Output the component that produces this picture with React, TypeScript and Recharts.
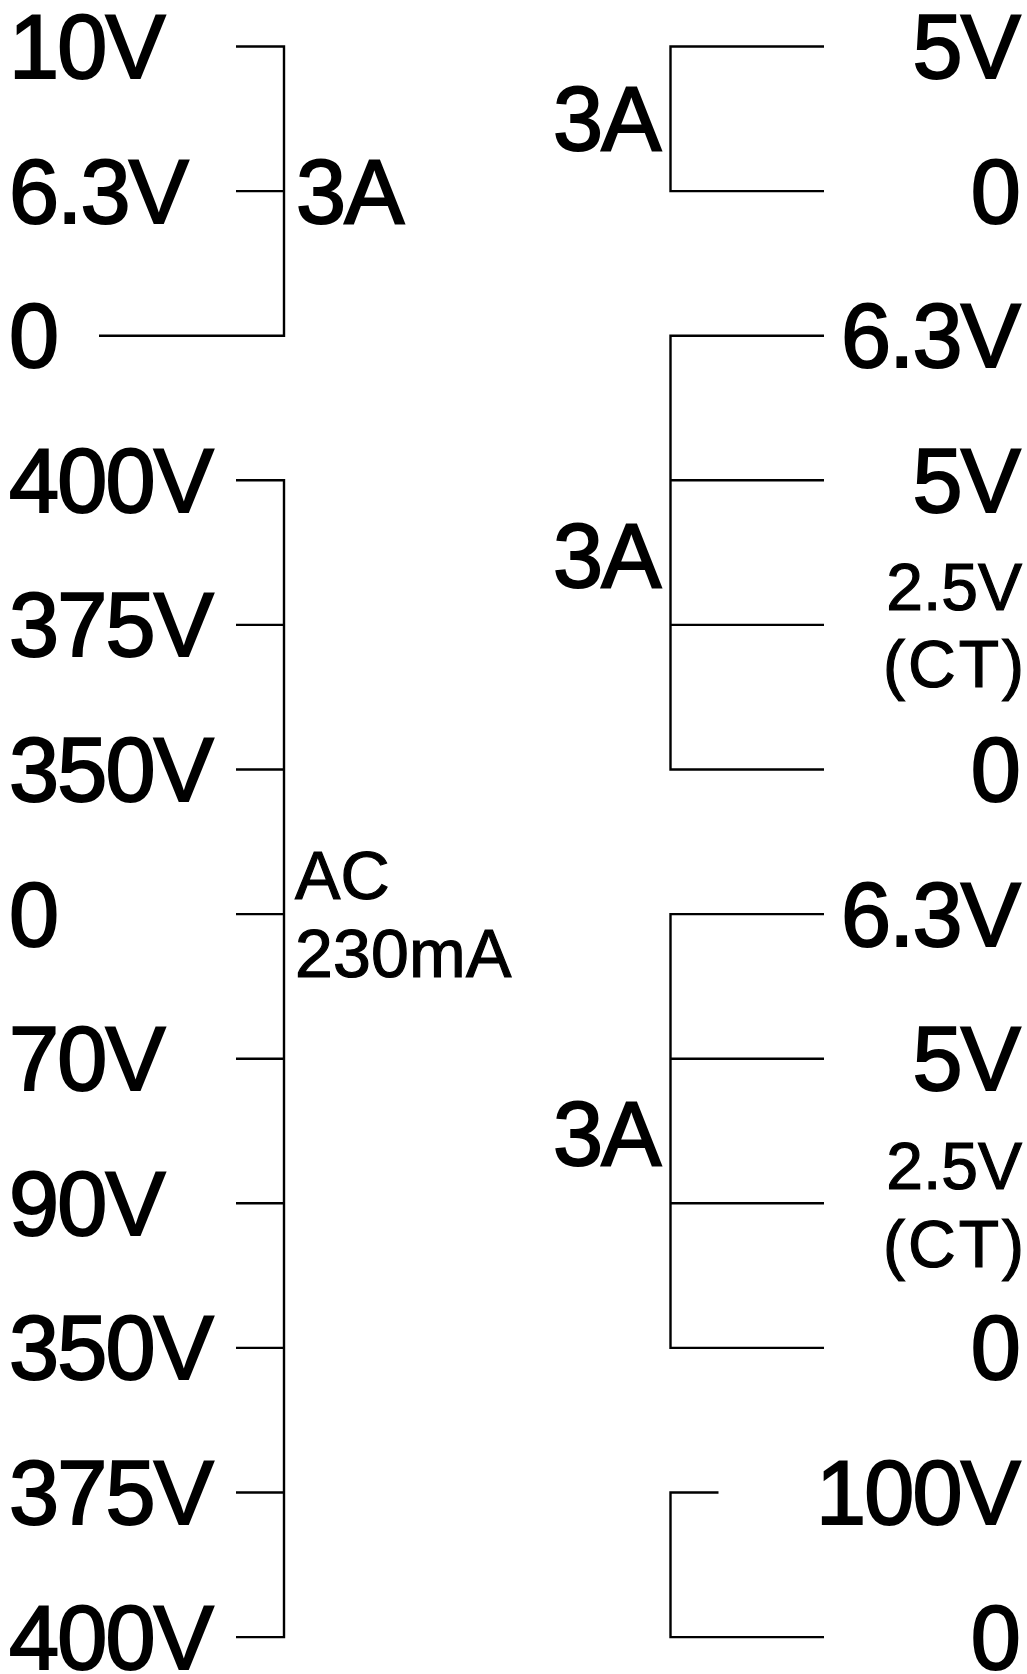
import { ScatterChart, Scatter, XAxis, YAxis } from 'recharts'

// Terminal labels, one per row of the drawing (row 0 is the top terminal)
const leftTopRows = [0, 1, 2]
const leftTopLabels = ['10V', '6.3V', '0']
const leftHighRows = [3, 4, 5, 6, 7, 8, 9, 10, 11]
const leftHighLabels = ['400V', '375V', '350V', '0', '70V', '90V', '350V', '375V', '400V']

const rightARows = [0, 1]
const rightALabels = ['5V', '0']
const rightBRows = [2, 3, 4, 5]
const rightBLabels = ['6.3V', '5V', '', '0']
const rightCRows = [6, 7, 8, 9]
const rightCLabels = ['6.3V', '5V', '', '0']
const rightDRows = [10, 11]
const rightDLabels = ['100V', '0']

// Centre tap notes and current ratings sit between rows
const ctVoltRows = [3.74, 7.74]
const ctVoltLabels = ['2.5V', '2.5V']
const ctTagRows = [4.27, 8.28]
const ctTagLabels = ['(CT)', '(CT)']
const ratingRowsLeft = [1]
const ratingLabelsLeft = ['3A']
const ratingRowsRight = [0.5, 3.52, 7.52]
const ratingLabelsRight = ['3A', '3A', '3A']
const acRows = [5.73, 6.27]
const acLabels = ['AC', '230mA']

const WIDTH = 1027
const HEIGHT = 1674
const FONT = '"Liberation Sans", Arial, sans-serif'

const LEFT_BUS = 284
const LEFT_LEAD = 236
const LEFT_LONG_LEAD = 99
const RIGHT_BUS = 670.5
const RIGHT_LEAD = 824
const RIGHT_SHORT_LEAD = 718.5

interface Seg {
  x: number
  row: number
}

interface Note {
  x: number
  row: number
  text: string
}

// A bracket: the bus with its first and last lead, plus a short lead at each middle tap
function bracket(rows: number[], bus: number, lead: (row: number) => number): Seg[][] {
  const first = rows[0]
  const last = rows[rows.length - 1]
  const out: Seg[][] = [[
    { x: lead(first), row: first },
    { x: bus, row: first },
    { x: bus, row: last },
    { x: lead(last), row: last },
  ]]
  rows.slice(1, -1).forEach(r => {
    out.push([{ x: lead(r), row: r }, { x: bus, row: r }])
  })
  return out
}

const segments: Seg[][] = [
  ...bracket(leftTopRows, LEFT_BUS, r => (r === 2 ? LEFT_LONG_LEAD : LEFT_LEAD)),
  ...bracket(leftHighRows, LEFT_BUS, () => LEFT_LEAD),
  ...bracket(rightARows, RIGHT_BUS, () => RIGHT_LEAD),
  ...bracket(rightBRows, RIGHT_BUS, () => RIGHT_LEAD),
  ...bracket(rightCRows, RIGHT_BUS, () => RIGHT_LEAD),
  ...bracket(rightDRows, RIGHT_BUS, r => (r === 10 ? RIGHT_SHORT_LEAD : RIGHT_LEAD)),
]

const notes = (rows: number[], labels: string[], x: number): Note[] =>
  rows.map((row, i) => ({ x, row, text: labels[i] })).filter(n => n.text !== '')

const leftBig = [
  ...notes(leftTopRows, leftTopLabels, 9),
  ...notes(leftHighRows, leftHighLabels, 9),
  ...notes(ratingRowsLeft, ratingLabelsLeft, 296),
]
const rightBig = [
  ...notes(rightARows, rightALabels, 1019),
  ...notes(rightBRows, rightBLabels, 1019),
  ...notes(rightCRows, rightCLabels, 1019),
  ...notes(rightDRows, rightDLabels, 1019),
]
const ratingsRight = notes(ratingRowsRight, ratingLabelsRight, 553)
const ctVolts = notes(ctVoltRows, ctVoltLabels, 1022)
const ctTags = notes(ctTagRows, ctTagLabels, 1027)
const acNotes = notes(acRows, acLabels, 295)

function textShape(size: number, anchor: 'start' | 'end', spacing = -1.8) {
  return (props: any) => (
    <text
      x={props.cx}
      y={props.cy + size * 0.35}
      fontSize={size}
      fontFamily={FONT}
      fill="#000"
      stroke="#000"
      strokeWidth={size > 80 ? 2 : 1.2}
      letterSpacing={spacing}
      textAnchor={anchor}
    >
      {props.payload.text}
    </text>
  )
}

export default function App() {
  return (
    <div style={{ position: 'absolute', left: 0, top: 0, width: WIDTH, height: HEIGHT, background: '#fff' }}>
      <ScatterChart width={WIDTH} height={HEIGHT} margin={{ top: 0, right: 0, bottom: 0, left: 0 }}>
        <XAxis type="number" dataKey="x" domain={[0, WIDTH]} hide />
        <YAxis type="number" dataKey="row" domain={[-0.3216, 11.255]} reversed hide />
        {segments.map((seg, i) => (
          <Scatter
            key={i}
            data={seg}
            line={{ stroke: '#000', strokeWidth: 2.4 }}
            shape={() => null}
            isAnimationActive={false}
          />
        ))}
        <Scatter data={leftBig} shape={textShape(90, 'start')} isAnimationActive={false} />
        <Scatter data={rightBig} shape={textShape(90, 'end')} isAnimationActive={false} />
        <Scatter data={ratingsRight} shape={textShape(90, 'start')} isAnimationActive={false} />
        <Scatter data={ctVolts} shape={textShape(66, 'end', 0)} isAnimationActive={false} />
        <Scatter data={ctTags} shape={textShape(66, 'end', 3)} isAnimationActive={false} />
        <Scatter data={acNotes} shape={textShape(68, 'start', 0.2)} isAnimationActive={false} />
      </ScatterChart>
    </div>
  )
}
